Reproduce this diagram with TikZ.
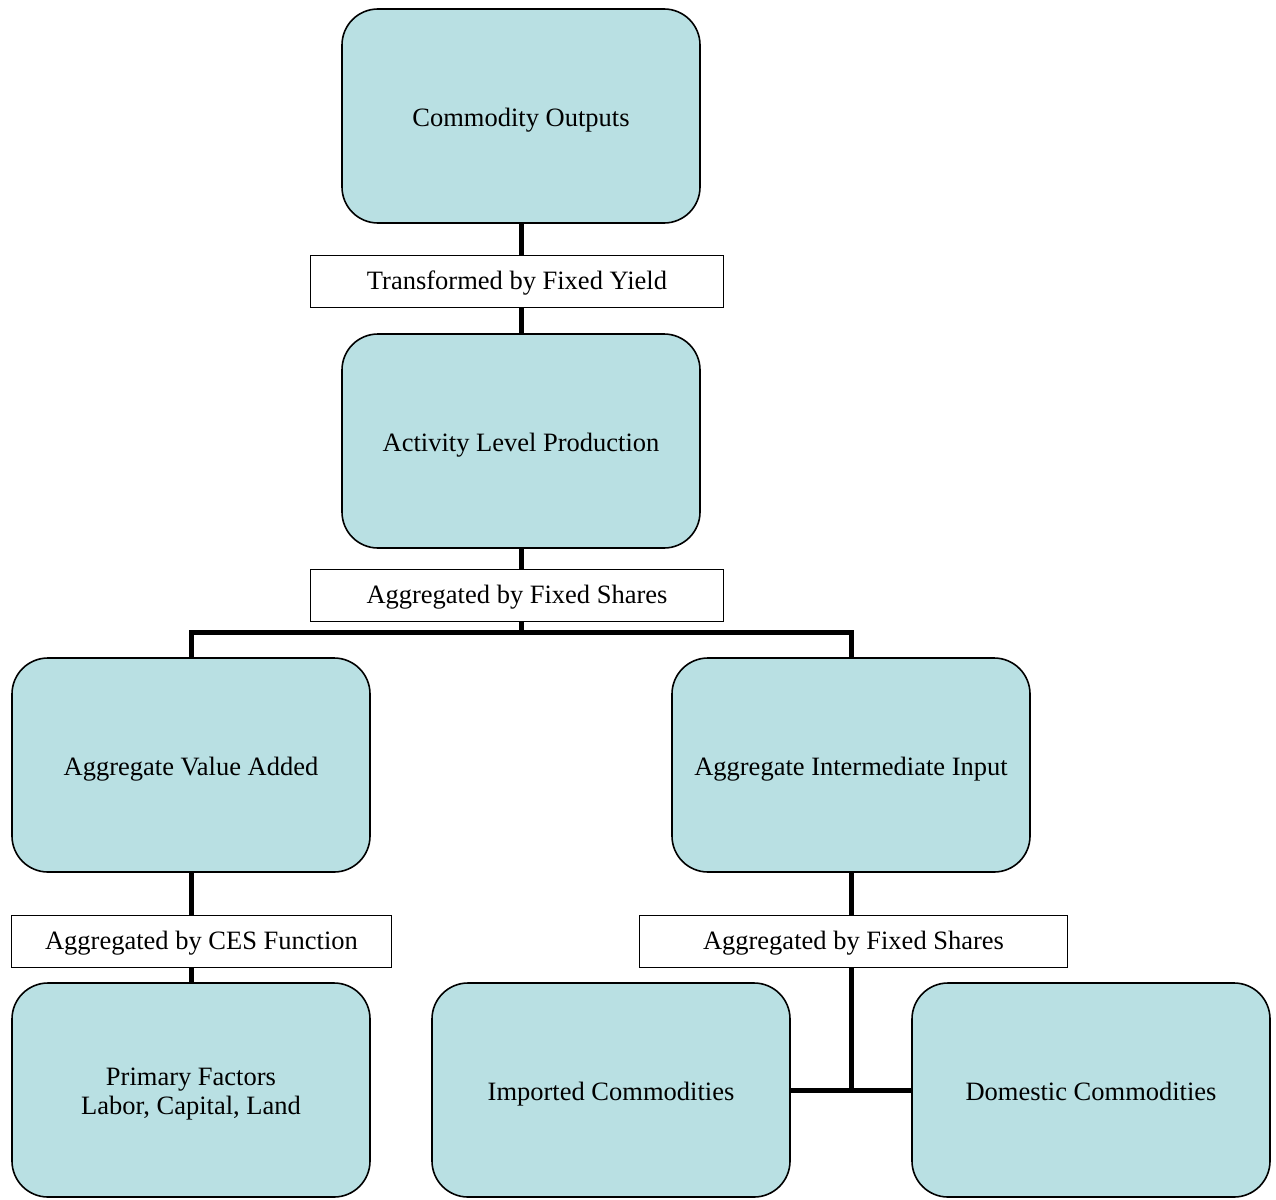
\documentclass[tikz,border=0pt]{standalone}
\usepackage{fontspec}
\setmainfont{Liberation Serif}
\usetikzlibrary{backgrounds}
\definecolor{boxfill}{RGB}{185,224,227}
\begin{document}
\begin{tikzpicture}[x=1pt,y=-1pt,
  every node/.style={font=\fontsize{26.5}{31}\selectfont},
  bigbox/.style={draw=black,line width=1.6pt,fill=boxfill,rounded corners=36pt,
    minimum width=358pt,minimum height=214pt,inner sep=0pt,align=center},
  oneline/.style={text height=20pt,text depth=0pt},
  labelbox/.style={draw=black,line width=1.4pt,fill=white,inner sep=0pt,
    minimum height=52pt,align=center,text height=15pt,text depth=0pt},
  conn/.style={line width=5pt}]
\useasboundingbox (0,0) rectangle (1276,1199);
\node[bigbox,oneline] (co) at (521,116) {Commodity Outputs};
\node[bigbox,oneline] (alp) at (521,441) {Activity Level Production};
\node[bigbox,oneline] (ava) at (191,765) {Aggregate Value Added};
\node[bigbox,oneline] (aii) at (851,765) {Aggregate Intermediate Input};
\node[bigbox] (pf) at (191,1090) {\raisebox{-4pt}[\height][\depth]{\shortstack{Primary Factors\\[2pt]Labor, Capital, Land}}};
\node[bigbox,oneline] (ic) at (611,1090) {Imported Commodities};
\node[bigbox,oneline] (dc) at (1091,1090) {Domestic Commodities};
\node[labelbox,minimum width=413pt] (l1) at (517,281.5) {Transformed by Fixed Yield};
\node[labelbox,minimum width=413pt] (l2) at (517,595.5) {Aggregated by Fixed Shares};
\node[labelbox,minimum width=380pt] (l3) at (201.5,941.5) {Aggregated by CES Function};
\node[labelbox,minimum width=428pt] (l4) at (853.5,941.5) {Aggregated by Fixed Shares};
\coordinate (split) at (521,632);
\coordinate (join) at (851,1090);
\begin{scope}[on background layer]
\draw[conn] (co.south) -- (alp.north);
\draw[conn] (alp.south) -- (split);
\draw[conn] (ava.north) |- (split) -| (aii.north);
\draw[conn] (ava.south) -- (pf.north);
\draw[conn] (aii.south) -- (join);
\draw[conn] (ic.east) -- (dc.west);
\end{scope}
\end{tikzpicture}
\end{document}
